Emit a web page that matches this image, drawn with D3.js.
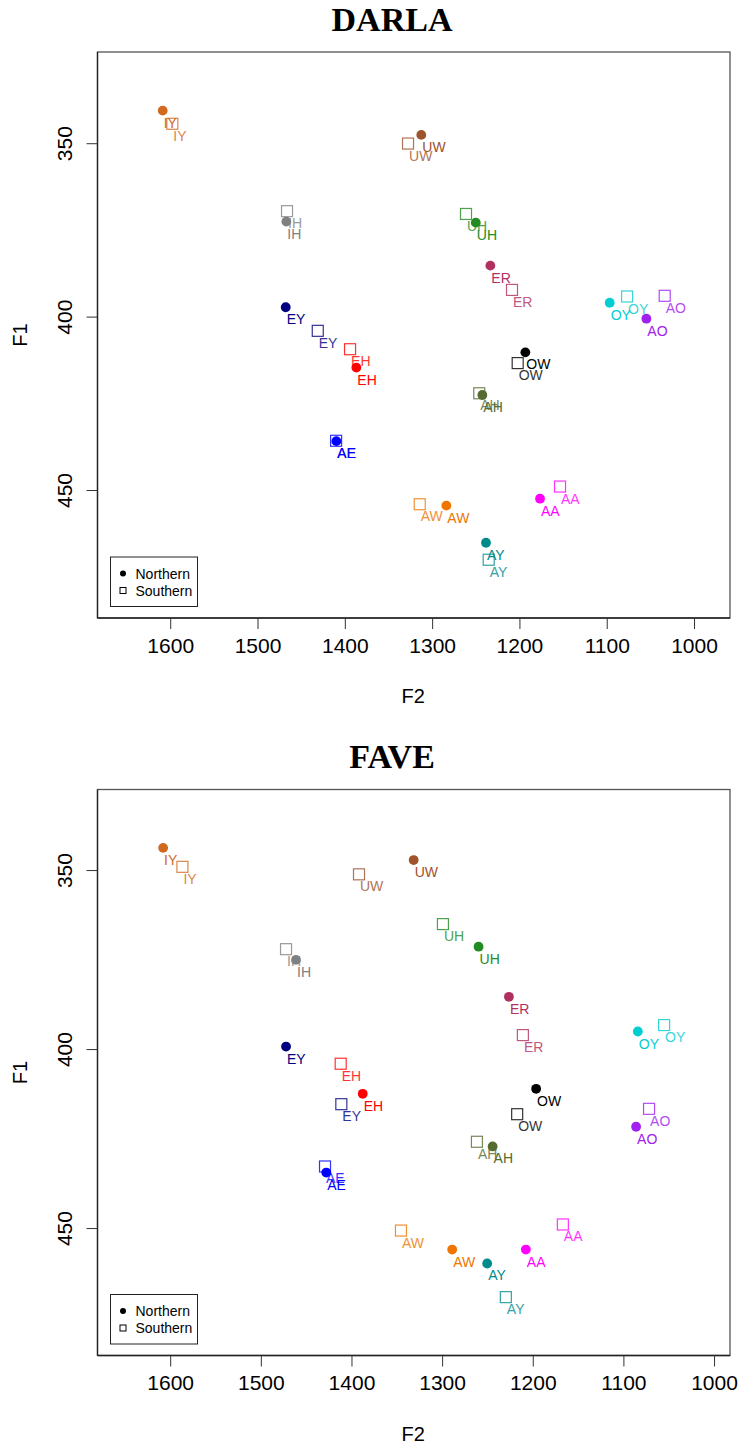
<!DOCTYPE html>
<html>
<head>
<meta charset="utf-8">
<script src="https://cdn.jsdelivr.net/npm/d3@7"></script>
<style>
  body { margin: 0; background: #fff; }
  svg { display: block; font-family: "Liberation Sans", Arial, sans-serif; }
</style>
</head>
<body>
<svg id="chart" width="741" height="1447"></svg>
<script>
// vowel classes and their colours
const vowels = ["IY", "IH", "EY", "EH", "AE", "AY", "AW", "AA", "AO", "OW", "OY", "AH", "ER", "UH", "UW"]
const colors = ["#D2691E", "#808080", "#000080", "#FF0000", "#0000FF", "#008B8B", "#EE7600", "#FF00FF",
                "#A020F0", "#000000", "#00CED1", "#556B2F", "#B03060", "#228B22", "#A0522D"]

// DARLA means
const darlaNorthF2 = [1608.6, 1467.0, 1467.7, 1386.8, 1409.7, 1238.3, 1283.7, 1176.4, 1054.6, 1193.2, 1096.6, 1242.5, 1233.3, 1250.0, 1312.4]
const darlaNorthF1 = [340.6, 372.6, 397.3, 414.7, 435.9, 465.2, 454.5, 452.5, 400.6, 410.3, 396.0, 422.6, 385.3, 372.9, 347.6]
const darlaSouthF2 = [1597.6, 1466.2, 1431.0, 1394.0, 1410.0, 1235.2, 1314.2, 1153.5, 1033.6, 1202.0, 1076.7, 1246.0, 1208.5, 1261.2, 1327.6]
const darlaSouthF1 = [344.4, 369.6, 404.1, 409.4, 435.8, 470.1, 454.1, 449.0, 394.0, 413.4, 394.2, 422.1, 392.3, 370.4, 350.1]

// FAVE means
const faveNorthF2 = [1607.8, 1461.2, 1472.2, 1387.6, 1427.8, 1250.3, 1288.9, 1207.6, 1086.0, 1196.3, 1084.1, 1244.3, 1226.3, 1259.8, 1331.4]
const faveNorthF1 = [343.8, 375.1, 399.3, 412.5, 434.5, 459.9, 456.0, 456.0, 421.7, 411.1, 395.1, 427.2, 385.4, 371.4, 347.2]
const faveSouthF2 = [1586.5, 1472.2, 1411.2, 1411.9, 1429.2, 1229.7, 1345.4, 1166.8, 1071.7, 1217.2, 1055.1, 1261.6, 1210.9, 1299.1, 1391.7]
const faveSouthF1 = [349.1, 372.1, 415.4, 404.1, 432.8, 469.3, 450.7, 449.0, 416.7, 418.2, 393.3, 425.9, 396.1, 365.1, 351.2]

const f2Ticks = [1600, 1500, 1400, 1300, 1200, 1100, 1000]
const f1Ticks = [350, 400, 450]
const legendLabels = ["Northern", "Southern"]

const svg = d3.select("#chart")
const W = 632.5, H = 566

const panel = (title, top, xDom, yDom, nF2, nF1, sF2, sF1) => {
  const g = svg.append("g").attr("transform", `translate(97.5, ${top})`)
  const x = d3.scaleLinear().domain(xDom).range([0, W])
  const y = d3.scaleLinear().domain(yDom).range([0, H])

  svg.append("text")
    .attr("x", 392).attr("y", top - 21.3)
    .attr("text-anchor", "middle")
    .attr("font-family", "'Liberation Serif', 'Times New Roman', serif")
    .attr("font-weight", "bold")
    .attr("font-size", 34)
    .text(title)

  g.append("rect").attr("width", W).attr("height", H)
    .attr("fill", "none").attr("stroke", "#555").attr("stroke-width", 1.3)

  const xa = g.append("g").attr("transform", `translate(0, ${H})`)
    .call(d3.axisBottom(x).tickValues(f2Ticks).tickSize(11).tickPadding(9).tickFormat(d3.format("d")))
  xa.select(".domain").attr("d", `M0,0H${W}`).attr("stroke", "#222").attr("stroke-width", 1.3)
  xa.selectAll(".tick line").attr("stroke", "#333")
  xa.selectAll(".tick text").attr("font-size", 21).attr("font-family", "'Liberation Sans', Arial, sans-serif").attr("fill", "#000")

  const ya = g.append("g")
    .call(d3.axisLeft(y).tickValues(f1Ticks).tickSize(11).tickFormat(d3.format("d")))
  ya.select(".domain").attr("d", `M0,0V${H}`).attr("stroke", "#222").attr("stroke-width", 1.3)
  ya.selectAll(".tick line").attr("stroke", "#333")
  ya.selectAll(".tick text")
    .attr("font-size", 21).attr("font-family", "'Liberation Sans', Arial, sans-serif").attr("fill", "#000")
    .attr("x", null).attr("dy", null)
    .attr("text-anchor", "middle")
    .attr("transform", "translate(-26, 0) rotate(-90)")

  svg.append("text")
    .attr("transform", `translate(27, ${top + H / 2}) rotate(-90)`)
    .attr("text-anchor", "middle").attr("font-size", 20).text("F1")
  svg.append("text")
    .attr("x", 97.5 + W / 2 - 0.5).attr("y", top + H + 85)
    .attr("text-anchor", "middle").attr("font-size", 20).text("F2")

  // southern: open squares
  vowels.forEach((v, i) => {
    const px = x(sF2[i]), py = y(sF1[i])
    const s = g.append("g").attr("opacity", 0.8)
    s.append("rect").attr("x", px - 5.5).attr("y", py - 5.5).attr("width", 11).attr("height", 11)
      .attr("fill", "none").attr("stroke", colors[i]).attr("stroke-width", 1.2)
    s.append("text").attr("x", px + 1).attr("y", py + 17).attr("font-size", 14)
      .attr("fill", colors[i]).text(v)
  })
  // northern: filled circles
  vowels.forEach((v, i) => {
    const px = x(nF2[i]), py = y(nF1[i])
    g.append("circle").attr("cx", px).attr("cy", py).attr("r", 4.9).attr("fill", colors[i])
    g.append("text").attr("x", px + 1).attr("y", py + 17).attr("font-size", 14)
      .attr("fill", colors[i]).text(v)
  })

  // legend
  const lg = g.append("g").attr("transform", `translate(13, ${H - 61})`)
  lg.append("rect").attr("width", 87).attr("height", 49.5)
    .attr("fill", "#fff").attr("stroke", "#222").attr("stroke-width", 1)
  legendLabels.forEach((lab, i) => {
    const ly = 16.5 + i * 17
    if (i === 0) lg.append("circle").attr("cx", 12.5).attr("cy", ly).attr("r", 3).attr("fill", "#000")
    else lg.append("rect").attr("x", 9.5).attr("y", ly - 3).attr("width", 6).attr("height", 6)
      .attr("fill", "none").attr("stroke", "#000").attr("stroke-width", 1)
    lg.append("text").attr("x", 25).attr("y", ly + 5).attr("font-size", 14).text(lab)
  })
}

panel("DARLA", 52, [1683.3, 958.8], [323.7, 486.9], darlaNorthF2, darlaNorthF1, darlaSouthF2, darlaSouthF1)
panel("FAVE", 789.5, [1680.2, 982.4], [327.5, 485.6], faveNorthF2, faveNorthF1, faveSouthF2, faveSouthF1)
</script>
</body>
</html>
